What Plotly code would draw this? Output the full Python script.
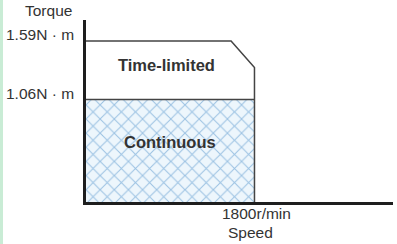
import plotly.graph_objects as go

# Data (schematic torque-speed characteristic)
rated_speed = 1800          # r/min
chamfer_speed = 1550        # r/min, start of torque roll-off
max_speed_axis = 3280
peak_torque = 1.59          # N·m
rated_torque = 1.06         # N·m
torque_at_rated_speed = 1.35

tl_speed = [0, chamfer_speed, rated_speed, rated_speed]
tl_torque = [peak_torque, peak_torque, torque_at_rated_speed, 0]
cont_speed = [0, rated_speed]
cont_torque = [rated_torque, rated_torque]

y_tick_vals = [peak_torque, rated_torque]
y_tick_text = ["1.59N · m", "1.06N · m"]
x_tick_text = "1800r/min"

TXT = "#333333"
LINE = "#444444"
FONT = "Liberation Sans, Arial, sans-serif"

fig = go.Figure()

# Continuous region (hatched)
fig.add_trace(go.Scatter(
    x=cont_speed, y=cont_torque, mode="lines", fill="tozeroy",
    line=dict(color=LINE, width=1.5),
    fillcolor="#eaf4fb",
    fillpattern=dict(shape="x", fgcolor="#4a8fca", bgcolor="#edf6fc",
                     size=10, solidity=0.2),
    hoverinfo="skip", showlegend=False))

# Time-limited boundary
fig.add_trace(go.Scatter(
    x=tl_speed, y=tl_torque, mode="lines",
    line=dict(color=LINE, width=1.5),
    hoverinfo="skip", showlegend=False))

W, H = 397, 244
L, R, T, B = 86, 4, 20, 42
pw, ph = W - L - R, H - T - B

annotations = []
for v, t in zip(y_tick_vals, y_tick_text):
    annotations.append(dict(x=0, y=v, xref="x", yref="y", text=t,
                            showarrow=False, xanchor="right", yanchor="middle",
                            xshift=-10, yshift=6,
                            font=dict(size=15.5, color=TXT, family=FONT)))
annotations += [
    dict(x=0, y=1, xref="x", yref="paper", text="Torque", showarrow=False,
         xanchor="center", yanchor="middle", xshift=-38, yshift=10,
         font=dict(size=15.5, color=TXT, family=FONT)),
    dict(x=rated_speed, y=0, xref="x", yref="paper", text=x_tick_text,
         showarrow=False, xanchor="center", yanchor="middle", xshift=2, yshift=-11,
         font=dict(size=15.5, color=TXT, family=FONT)),
    dict(x=rated_speed, y=0, xref="x", yref="paper", text="Speed",
         showarrow=False, xanchor="center", yanchor="middle", xshift=-4, yshift=-30,
         font=dict(size=15.5, color=TXT, family=FONT)),
    dict(x=862, y=1.368, xref="x", yref="y", text="<b>Time-limited</b>",
         showarrow=False, xanchor="center", yanchor="middle",
         font=dict(size=16.5, color=TXT, family=FONT)),
    dict(x=902, y=0.679, xref="x", yref="y", text="<b>Continuous</b>",
         showarrow=False, xanchor="center", yanchor="middle",
         font=dict(size=16.5, color=TXT, family=FONT)),
]

fig.update_layout(
    width=W, height=H,
    margin=dict(l=L, r=R, t=T, b=B),
    paper_bgcolor="white", plot_bgcolor="white",
    xaxis=dict(range=[0, max_speed_axis], showgrid=False, zeroline=False,
               showticklabels=False, ticks="", showline=True,
               linecolor="#1e1e1e", linewidth=2.5),
    yaxis=dict(range=[0.131, 1.780], showgrid=False, zeroline=False,
               showticklabels=False, ticks="", showline=True,
               linecolor="#1e1e1e", linewidth=2.5),
    annotations=annotations,
    shapes=[dict(type="rect", xref="paper", yref="paper",
                 x0=-L / pw, x1=(-L + 3) / pw, y0=-B / ph, y1=1 + T / ph,
                 fillcolor="#c9ecd5", line=dict(width=0), layer="below")],
)

fig.write_html("out.html", config={"displayModeBar": False},
               post_script="document.body.style.margin='0';document.body.style.overflow='hidden';")
